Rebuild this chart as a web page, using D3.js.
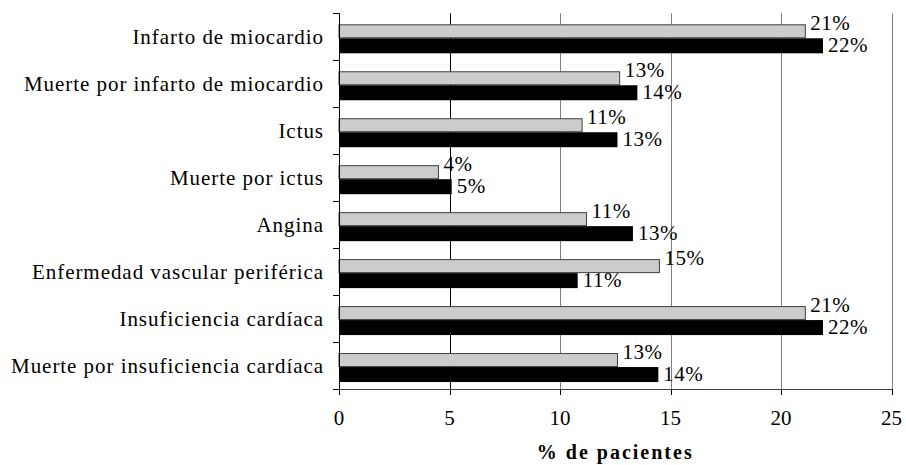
<!DOCTYPE html>
<html>
<head>
<meta charset="utf-8">
<script src="https://cdn.jsdelivr.net/npm/d3@7"></script>
<style>
  html, body { margin: 0; padding: 0; background: #fff; }
  svg { display: block; }
  text { font-family: "Liberation Serif", "Times New Roman", serif; fill: #000; }
</style>
</head>
<body>
<svg id="chart" width="906" height="465"></svg>
<script>
const categories = [
  "Infarto de miocardio",
  "Muerte por infarto de miocardio",
  "Ictus",
  "Muerte por ictus",
  "Angina",
  "Enfermedad vascular periférica",
  "Insuficiencia cardíaca",
  "Muerte por insuficiencia cardíaca"
];
const seriesGray  = [21.1, 12.7, 11.0, 4.5, 11.2, 14.5, 21.1, 12.6];
const seriesBlack = [21.9, 13.5, 12.6, 5.1, 13.3, 10.8, 21.9, 14.45];
const labelsGray  = ["21%", "13%", "11%", "4%", "11%", "15%", "21%", "13%"];
const labelsBlack = ["22%", "14%", "13%", "5%", "13%", "11%", "22%", "14%"];
const xTicks = [0, 5, 10, 15, 20, 25];
const xTitle = "% de pacientes";

(function () {
const svg = d3.select("#chart");
const mLeft = 339, mRight = 891.5, mTop = 13.3, mBottom = 389;

const x = d3.scaleLinear().domain([0, 25]).range([mLeft, mRight]);
const y = d3.scaleBand().domain(categories).range([mTop, mBottom]).padding(0);
const inner = d3.scaleBand().domain(["gray", "black"]).range([11, 39]).padding(0);

// gridlines
svg.append("g").selectAll("line").data(xTicks.filter(t => t > 0)).join("line")
  .attr("x1", d => Math.round(x(d)) + 0.5).attr("x2", d => Math.round(x(d)) + 0.5)
  .attr("y1", mTop).attr("y2", mBottom)
  .attr("stroke", d => d === 5 ? "#000" : "#808080").attr("stroke-width", 1);

// bars
const g = svg.append("g");
categories.forEach((c, i) => {
  g.append("rect")
    .attr("x", x(0)).attr("y", y(c) + inner("gray") + 0.5)
    .attr("width", x(seriesGray[i]) - x(0)).attr("height", inner.bandwidth() - 1)
    .attr("fill", "#cccccc").attr("stroke", "#404040").attr("stroke-width", 1);
  g.append("rect")
    .attr("x", x(0)).attr("y", y(c) + inner("black"))
    .attr("width", x(seriesBlack[i]) - x(0)).attr("height", inner.bandwidth() + 1)
    .attr("fill", "#000");
  g.append("text")
    .attr("x", x(seriesGray[i]) + 5).attr("y", y(c) + inner("gray") + inner.bandwidth() / 2 - 8)
    .attr("dominant-baseline", "central").style("font-size", "21px").style("letter-spacing", "0.5px")
    .text(labelsGray[i]);
  g.append("text")
    .attr("x", x(seriesBlack[i]) + 5).attr("y", y(c) + inner("black") + inner.bandwidth() / 2)
    .attr("dominant-baseline", "central").style("font-size", "21px").style("letter-spacing", "0.5px")
    .text(labelsBlack[i]);
});

// left axis
const yAxis = svg.append("g");
yAxis.append("line").attr("x1", mLeft + 0.5).attr("x2", mLeft + 0.5).attr("y1", mTop).attr("y2", mBottom)
  .attr("stroke", "#000");
const bounds = categories.map(c => y(c)).concat([mBottom]);
yAxis.selectAll("line.tk").data(bounds).join("line").attr("class", "tk")
  .attr("x1", mLeft - 6).attr("x2", mLeft + 0.5)
  .attr("y1", d => Math.round(d) + 0.5).attr("y2", d => Math.round(d) + 0.5)
  .attr("stroke", "#000");
yAxis.selectAll("text").data(categories).join("text")
  .attr("x", mLeft - 15).attr("y", d => y(d) + y.bandwidth() / 2)
  .attr("text-anchor", "end").attr("dominant-baseline", "central")
  .style("font-size", "21px").style("letter-spacing", "0.95px")
  .text(d => d);

// bottom axis
const xAxis = svg.append("g");
xAxis.append("line").attr("x1", mLeft).attr("x2", mRight + 1).attr("y1", mBottom + 0.5).attr("y2", mBottom + 0.5)
  .attr("stroke", "#404040");
xAxis.selectAll("line.tk").data(xTicks).join("line").attr("class", "tk")
  .attr("x1", d => Math.round(x(d)) + 0.5).attr("x2", d => Math.round(x(d)) + 0.5)
  .attr("y1", mBottom).attr("y2", mBottom + 6)
  .attr("stroke", "#000");
xAxis.selectAll("text").data(xTicks).join("text")
  .attr("x", d => x(d)).attr("y", mBottom + 36)
  .attr("text-anchor", "middle").style("font-size", "21px")
  .text(d => d);

svg.append("text")
  .attr("x", (mLeft + mRight) / 2).attr("y", 459)
  .attr("text-anchor", "middle").style("font-size", "20px").style("font-weight", "bold")
  .style("letter-spacing", "2px")
  .text(xTitle);
})();
</script>
</body>
</html>
